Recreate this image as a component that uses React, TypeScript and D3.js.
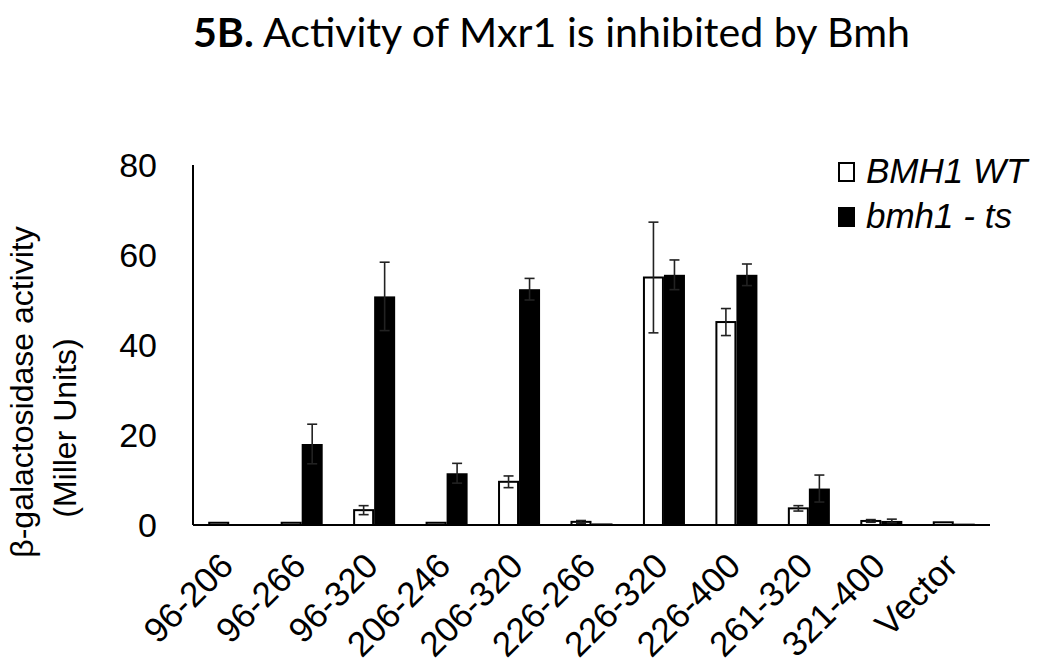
import React, { useEffect, useRef } from "react";
import * as d3 from "d3";

const categories = ["96-206", "96-266", "96-320", "206-246", "206-320", "226-266", "226-320", "226-400", "261-320", "321-400", "Vector"];
const wtValues = [0.5, 0.5, 3.3, 0.5, 9.6, 0.7, 55.0, 45.1, 3.7, 0.9, 0.6];
const wtErrors = [0, 0, 1.0, 0, 1.3, 0.3, 12.3, 3.0, 0.6, 0.3, 0];
const tsValues = [0, 18.0, 50.8, 11.5, 52.4, 0.35, 55.6, 55.6, 8.1, 0.9, 0.3];
const tsErrors = [0, 4.4, 7.6, 2.2, 2.4, 0, 3.3, 2.4, 3.0, 0.4, 0];
const seriesKeys = ["BMH1 WT", "bmh1 - ts"];
const yTicks = [0, 20, 40, 60, 80];

const FONT = "'Liberation Sans', Arial, sans-serif";

const App = () => {
  const ref = useRef<SVGSVGElement>(null);

  useEffect(() => {
    const svg = d3.select(ref.current);
    svg.selectAll("*").remove();

    const width = 1050, height = 671;
    svg.attr("width", width).attr("height", height);

    const left = 193, right = 990, top = 165, bottom = 525;

    const x0 = d3.scaleBand().domain(categories).range([left, right]).paddingInner(0.42).paddingOuter(0.21);
    const x1 = d3.scaleBand().domain(seriesKeys).range([0, x0.bandwidth()]);
    const y = d3.scaleLinear().domain([0, 80]).range([bottom, top]);

    const rows = categories.map((c, i) => ({
      cat: c,
      vals: [
        { key: seriesKeys[0], v: wtValues[i], e: wtErrors[i] },
        { key: seriesKeys[1], v: tsValues[i], e: tsErrors[i] },
      ],
    }));

    // title
    const title = svg.append("text")
      .attr("x", 193)
      .attr("y", 47)
      .attr("font-family", "Lato, 'Open Sans', sans-serif")
      .attr("font-size", "41px")
      .attr("textLength", 717)
      .attr("lengthAdjust", "spacingAndGlyphs");
    title.append("tspan").attr("font-weight", "bold").text("5B.");
    title.append("tspan").text(" Activity of Mxr1 is inhibited by Bmh");

    // bars
    const groups = svg.selectAll("g.grp")
      .data(rows)
      .join("g")
      .attr("class", "grp")
      .attr("transform", (d) => `translate(${x0(d.cat)},0)`);

    groups.selectAll("rect")
      .data((d) => d.vals)
      .join("rect")
      .attr("x", (d) => x1(d.key)! + (d.key === seriesKeys[0] ? 1 : 0))
      .attr("y", (d) => y(d.v))
      .attr("width", (d) => x1.bandwidth() - (d.key === seriesKeys[0] ? 2 : 0))
      .attr("height", (d) => Math.max(0, y(0) - y(d.v)))
      .attr("fill", (d) => (d.key === seriesKeys[0] ? "#fff" : "#000"))
      .attr("stroke", (d) => (d.key === seriesKeys[0] ? "#000" : "none"))
      .attr("stroke-width", 2);

    // error bars
    const errs = groups.selectAll("g.err")
      .data((d) => d.vals.filter((v) => v.e > 0))
      .join("g")
      .attr("class", "err")
      .attr("stroke", "#222")
      .attr("stroke-width", 1.6);
    const cx = (d) => x1(d.key)! + x1.bandwidth() / 2;
    errs.append("line")
      .attr("x1", cx).attr("x2", cx)
      .attr("y1", (d) => y(d.v + d.e)).attr("y2", (d) => y(Math.max(0, d.v - d.e)));
    errs.append("line")
      .attr("x1", (d) => cx(d) - 5).attr("x2", (d) => cx(d) + 5)
      .attr("y1", (d) => y(d.v + d.e)).attr("y2", (d) => y(d.v + d.e));
    errs.append("line")
      .attr("x1", (d) => cx(d) - 5).attr("x2", (d) => cx(d) + 5)
      .attr("y1", (d) => y(Math.max(0, d.v - d.e))).attr("y2", (d) => y(Math.max(0, d.v - d.e)));

    // axes
    svg.append("line")
      .attr("x1", left).attr("x2", left).attr("y1", top).attr("y2", bottom)
      .attr("stroke", "#000").attr("stroke-width", 2);
    svg.append("line")
      .attr("x1", left).attr("x2", right).attr("y1", bottom).attr("y2", bottom)
      .attr("stroke", "#000").attr("stroke-width", 2);

    svg.selectAll("text.ytick")
      .data(yTicks)
      .join("text")
      .attr("class", "ytick")
      .attr("x", 157)
      .attr("y", (d) => y(d))
      .attr("dy", "0.36em")
      .attr("text-anchor", "end")
      .attr("font-family", FONT)
      .attr("font-size", "34px")
      .text((d) => d);

    svg.selectAll("text.xtick")
      .data(categories)
      .join("text")
      .attr("class", "xtick")
      .attr("text-anchor", "end")
      .attr("font-family", FONT)
      .attr("font-size", "35px")
      .attr("transform", (d) => `translate(${x0(d)! + x0.bandwidth() / 2 + 6},568) rotate(-45)`)
      .text((d) => d);

    // y axis title
    const yt = svg.append("g").attr("font-family", FONT).attr("font-size", "32px").attr("text-anchor", "middle");
    yt.append("text")
      .attr("transform", "translate(33,392) rotate(-90)")
      .text("β-galactosidase activity");
    yt.append("text")
      .attr("transform", "translate(76,428) rotate(-90)")
      .text("(Miller Units)");

    // legend
    const lg = svg.append("g").attr("font-family", FONT).attr("font-size", "35px").attr("font-style", "italic");
    seriesKeys.forEach((k, i) => {
      const ly = 183 + i * 45;
      lg.append("rect")
        .attr("x", 838 + (i === 0 ? 1 : 0))
        .attr("y", ly - 21 + (i === 0 ? 1 : 0))
        .attr("width", i === 0 ? 15 : 17)
        .attr("height", i === 0 ? 18 : 20)
        .attr("fill", i === 0 ? "#fff" : "#000")
        .attr("stroke", "#000")
        .attr("stroke-width", i === 0 ? 2 : 0);
      lg.append("text").attr("x", 866).attr("y", ly).text(k);
    });
  }, []);

  return <svg ref={ref} style={{ position: "absolute", left: 0, top: 0 }} />;
};

export default App;
